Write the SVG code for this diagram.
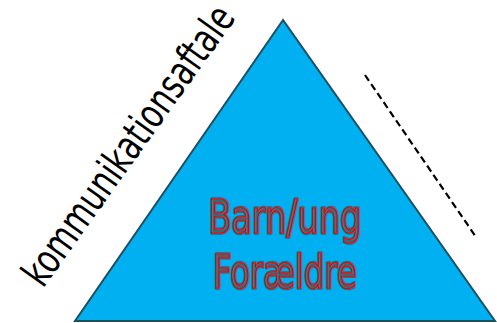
<svg xmlns="http://www.w3.org/2000/svg" width="497" height="323" viewBox="0 0 497 323">
<style>
.tri{fill:#00B0F0;stroke:#1F4E5E;stroke-width:2;stroke-linejoin:miter}
.lbl{font-family:"Liberation Sans Narrow","DejaVu Sans Condensed","Liberation Sans",sans-serif;font-size:47px;text-anchor:middle}
.halo{fill:#34687A;stroke:#34687A;stroke-width:3.5;stroke-linejoin:round}
.core{fill:#34687A;stroke:#FF0000;stroke-width:1.1}
.side{font-family:"Liberation Sans Narrow","DejaVu Sans Condensed","Liberation Sans",sans-serif;font-size:41px;fill:#000}
.dash{stroke:#000;stroke-width:2.2;stroke-dasharray:7 4;fill:none}
</style>
<rect width="497" height="323" fill="#FFFFFF"/>
<g id="triangle">
<polygon class="tri" points="283,20 75,321 495,321"/>
</g>
<g id="label-center">
<text class="lbl halo" x="285" y="233" textLength="153" lengthAdjust="spacingAndGlyphs">Barn/ung</text>
<text class="lbl core" x="285" y="233" textLength="153" lengthAdjust="spacingAndGlyphs">Barn/ung</text>
<text class="lbl halo" x="285" y="288" textLength="144" lengthAdjust="spacingAndGlyphs">Forældre</text>
<text class="lbl core" x="285" y="288" textLength="144" lengthAdjust="spacingAndGlyphs">Forældre</text>
</g>
<g id="label-side">
<text class="side" transform="translate(43,289) rotate(-54.5)" x="0" y="0" textLength="333" lengthAdjust="spacingAndGlyphs">kommunikationsaftale</text>
</g>
<g id="connectors">
<line class="dash" x1="365" y1="75" x2="476" y2="237"/>
</g>
</svg>
